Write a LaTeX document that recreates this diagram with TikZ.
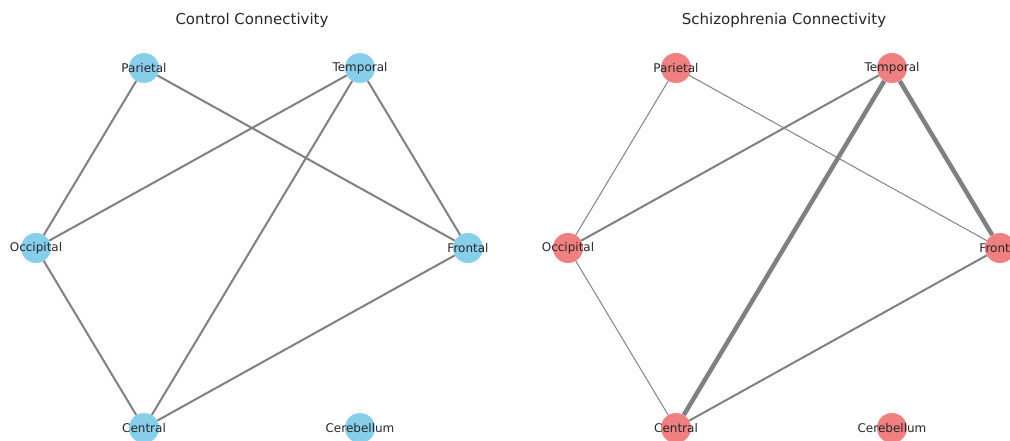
\documentclass[tikz,border=0pt]{standalone}
\usepackage{fontspec}
\setmainfont{DejaVu Sans}
\usetikzlibrary{positioning}
\definecolor{ctrlblue}{HTML}{87CEEB}
\definecolor{sczred}{HTML}{F08080}
\definecolor{edgegray}{HTML}{808080}

\begin{document}
\begin{tikzpicture}[
  x=1pt,y=-1pt,
  region/.style={circle,minimum size=30pt,inner sep=0pt},
  ctrl/.style={region,fill=ctrlblue},
  scz/.style={region,fill=sczred},
  lbl/.style={font=\fontsize{12}{12}\selectfont,text=black!85,inner sep=0pt},
  ttl/.style={font=\fontsize{15}{15}\selectfont,text=black!85},
  link/.style={draw=edgegray,line width=2pt},
  thin link/.style={draw=edgegray,line width=1pt},
  thick link/.style={draw=edgegray,line width=4.5pt}
]
\useasboundingbox (0,0) rectangle (1010,441);
\clip (0,0) rectangle (1010,441);

\node[ttl] (ttlc) at (252,20) {Control Connectivity};
\node[ttl] (ttls) at (784,20) {Schizophrenia Connectivity};

% control
\node[ctrl] (cpar) at (144,68) {};
\node[ctrl] (ctem) at (360,68) {};
\node[ctrl] (cocc) at (36,248) {};
\node[ctrl] (cfro) at (468,248) {};
\node[ctrl] (ccen) at (144,428) {};
\node[ctrl] (ccer) at (360,428) {};

\draw[link] (cpar) -- (cocc);
\draw[link] (cpar) -- (cfro);
\draw[link] (ctem) -- (cocc);
\draw[link] (ctem) -- (ccen);
\draw[link] (ctem) -- (cfro);
\draw[link] (cocc) -- (ccen);
\draw[link] (ccen) -- (cfro);

\node[lbl] at (cpar) {Parietal};
\node[lbl] at (ctem) {Temporal};
\node[lbl] at (cocc) {Occipital};
\node[lbl] at (cfro) {Frontal};
\node[lbl] at (ccen) {Central};
\node[lbl] at (ccer) {Cerebellum};

% schizophrenia
\node[scz] (spar) at (676,68) {};
\node[scz] (stem) at (892,68) {};
\node[scz] (socc) at (568,248) {};
\node[scz] (sfro) at (1000,248) {};
\node[scz] (scen) at (676,428) {};
\node[scz] (scer) at (892,428) {};

\draw[thin link] (spar) -- (socc);
\draw[thin link] (spar) -- (sfro);
\draw[link] (stem) -- (socc);
\draw[thick link] (stem) -- (scen);
\draw[thick link] (stem) -- (sfro);
\draw[thin link] (socc) -- (scen);
\draw[link] (scen) -- (sfro);

\node[lbl] at (spar) {Parietal};
\node[lbl] at (stem) {Temporal};
\node[lbl] at (socc) {Occipital};
\node[lbl] at (sfro) {Frontal};
\node[lbl] at (scen) {Central};
\node[lbl] at (scer) {Cerebellum};
\end{tikzpicture}
\end{document}
